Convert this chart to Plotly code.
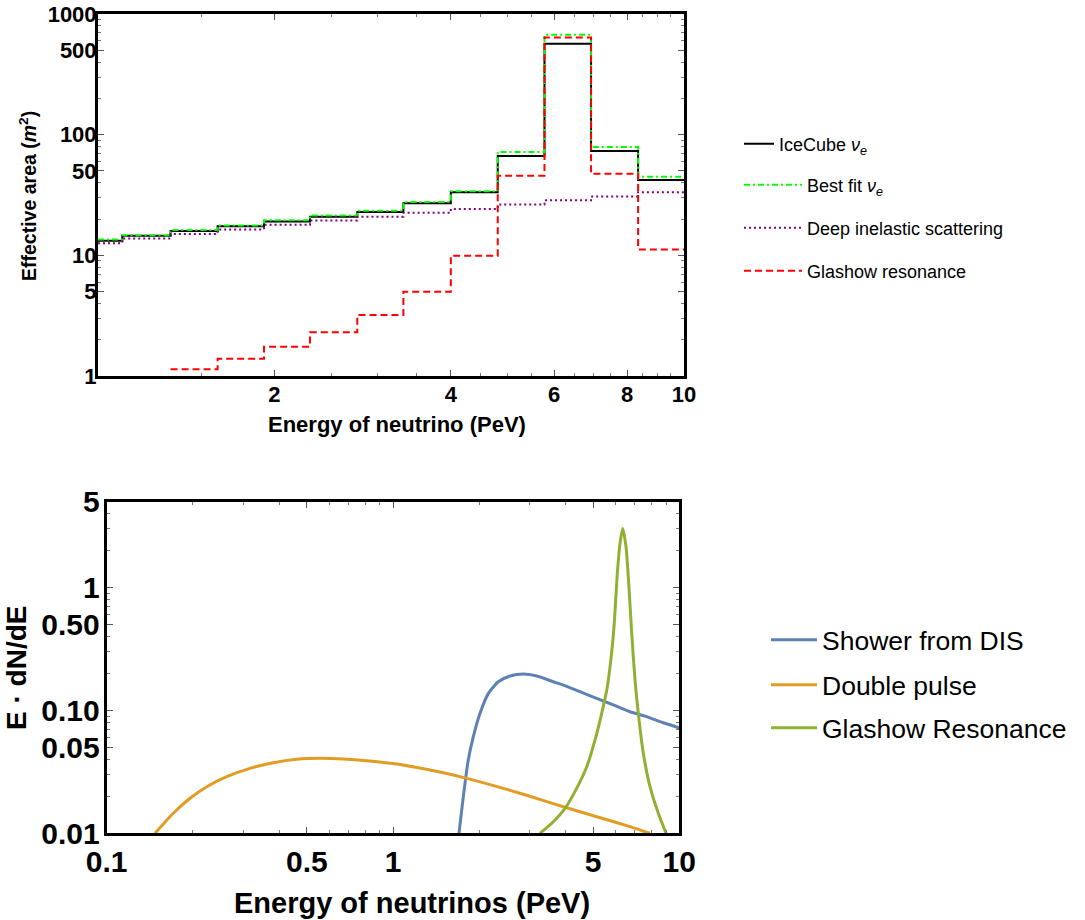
import plotly.graph_objects as go

W, H = 1085, 920
FONT = "Liberation Sans, Arial, sans-serif"

# ---------------- Top panel: effective area (m^2) vs energy (PeV) ----------------
bin_edges = [1.0, 1.10, 1.33, 1.60, 1.92, 2.30, 2.77, 3.32, 4.00, 4.81, 5.78, 6.94, 8.35, 10.0]
icecube = [13.2, 14.5, 15.9, 17.4, 19.1, 20.9, 22.9, 27.0, 33.3, 66.5, 566, 73.1, 42.1]
best_fit = [13.5, 14.7, 16.2, 17.7, 19.5, 21.4, 23.4, 27.7, 33.9, 71.7, 673, 78.9, 44.8]
dis_area = [12.6, 13.8, 15.0, 16.4, 17.9, 19.4, 20.9, 22.5, 24.2, 26.4, 28.6, 30.8, 33.4]
glashow_area = [None, None, 1.14, 1.39, 1.75, 2.30, 3.20, 4.99, 9.93, 45.7, 640, 47.4, 11.2]

top_xticks = [2, 4, 6, 8, 10]
top_xminor = [1.5, 2.5, 3, 3.5, 4.5, 5, 5.5, 6.5, 7, 7.5, 8.5, 9, 9.5]
top_yticks = [1, 5, 10, 50, 100, 500, 1000]
top_yminor = [2, 3, 4, 6, 7, 8, 9, 20, 30, 40, 60, 70, 80, 90, 200, 300, 400, 600, 700, 800, 900]

# ---------------- Bottom panel: E dN/dE vs energy (PeV) ----------------
dis_E = [1.70, 1.738, 1.784, 1.832, 1.908, 2.014, 2.153, 2.332, 2.563, 2.852, 3.177,
         3.63, 3.934, 4.50, 5.146, 5.88, 6.726, 7.69, 8.794, 10.0]
dis_val = [0.0100, 0.0155, 0.0255, 0.0395, 0.0611, 0.0947, 0.1377, 0.1712, 0.1905, 0.1977, 0.1905,
           0.1712, 0.1609, 0.142, 0.1254, 0.111, 0.0976, 0.089, 0.0794, 0.072]

pulse_E = [0.1475, 0.1708, 0.1954, 0.2236, 0.2625, 0.3166, 0.3818, 0.4609, 0.5559, 0.6706,
           0.8093, 1.030, 1.2, 1.459, 1.809, 2.495, 3.009, 3.934, 5.146, 6.726, 7.69, 7.9]
pulse_val = [0.0100, 0.01455, 0.01927, 0.02394, 0.02888, 0.03380, 0.03753, 0.04000, 0.04077, 0.04024,
             0.03897, 0.03664, 0.0345, 0.0315, 0.0280, 0.0228, 0.0200, 0.01646, 0.01365, 0.01132,
             0.0102, 0.0100]

gr_E = [3.262, 3.63, 3.99, 4.38, 4.75, 5.076, 5.358, 5.606, 5.807, 5.93, 6.074, 6.208, 6.344,
        6.514, 6.658, 6.82, 7.004, 7.192, 7.488, 7.902, 8.447, 8.987]
gr_val = [0.0100, 0.01243, 0.01597, 0.0232, 0.03483, 0.0574, 0.0947, 0.1559, 0.300, 0.52, 1.305,
          2.288, 3.031, 2.148, 1.082, 0.424, 0.1768, 0.0947, 0.04477, 0.02394, 0.01455, 0.0100]

bot_xticks = [0.1, 0.5, 1, 5, 10]
bot_xticktext = ["0.1", "0.5", "1", "5", "10"]
bot_xminor = [0.2, 0.3, 0.4, 0.6, 0.7, 0.8, 0.9, 2, 3, 4, 6, 7, 8, 9]
bot_yticks = [0.01, 0.05, 0.1, 0.5, 1, 5]
bot_yticktext = ["0.01", "0.05", "0.10", "0.50", "1", "5"]
bot_yminor = [0.02, 0.03, 0.04, 0.06, 0.07, 0.08, 0.09, 0.2, 0.3, 0.4, 0.6, 0.7, 0.8, 0.9, 2, 3, 4]


def step_xy(edges, vals):
    xs, ys = [], []
    for i, v in enumerate(vals):
        if v is None:
            continue
        xs.append(edges[i])
        ys.append(v)
    xs.append(edges[-1])
    ys.append(ys[-1])
    return xs, ys


fig = go.Figure()

top_series = [
    ("IceCube <i>ν<sub>e</sub></i>", icecube, "#000000", "solid", "legend"),
    ("Best fit <i>ν<sub>e</sub></i>", best_fit, "#00ff00", "6px,3px,2px,3px", "legend2"),
    ("Deep inelastic scattering", dis_area, "#800080", "2px,3px", "legend3"),
    ("Glashow resonance", glashow_area, "#ff0000", "7px,4px", "legend4"),
]
for name, vals, col, dash, lg in top_series:
    xs, ys = step_xy(bin_edges, vals)
    fig.add_trace(go.Scatter(x=xs, y=ys, mode="lines", name=name, line_shape="hv",
                             line=dict(color=col, width=2, dash=dash), showlegend=True,
                             xaxis="x", yaxis="y", legend=lg))

bot_series = [
    ("Shower from DIS", dis_E, dis_val, "#5e81b5", "legend5"),
    ("Double pulse", pulse_E, pulse_val, "#e19c24", "legend6"),
    ("Glashow Resonance", gr_E, gr_val, "#8fb032", "legend7"),
]
for name, xs, ys, col, lg in bot_series:
    fig.add_trace(go.Scatter(x=xs, y=ys, mode="lines", name=name, line_shape="spline",
                             line=dict(color=col, width=3, smoothing=0.6), showlegend=True,
                             xaxis="x2", yaxis="y2", legend=lg))


def px_x(p):
    return p / W


def px_y(p):
    return 1 - p / H


common = dict(type="log", showgrid=False, zeroline=False, showline=True, linecolor="black",
              linewidth=3, mirror="allticks", ticks="inside", ticklen=6, tickwidth=1,
              tickcolor="#555555", automargin=False)

tick_top = dict(family=FONT, size=22, color="black", weight="bold")
tick_bot = dict(family=FONT, size=30, color="black", weight="bold")

fig.update_layout(
    width=W, height=H, margin=dict(l=0, r=0, t=0, b=0, autoexpand=False),
    paper_bgcolor="white", plot_bgcolor="white", showlegend=True,
    xaxis=dict(common, range=[0, 1], domain=[px_x(98), px_x(684)], anchor="y",
               tickmode="array", tickvals=top_xticks, ticktext=[str(v) for v in top_xticks],
               tickfont=tick_top, ticklabelstandoff=-3,
               minor=dict(tickmode="array", tickvals=top_xminor, ticks="inside", ticklen=3,
                          tickcolor="#777777", showgrid=False)),
    yaxis=dict(common, range=[0, 3], domain=[px_y(376), px_y(14)], anchor="x",
               tickmode="array", tickvals=top_yticks, ticktext=[str(v) for v in top_yticks],
               tickfont=tick_top, ticklabelstandoff=-6,
               minor=dict(tickmode="array", tickvals=top_yminor, ticks="inside", ticklen=3,
                          tickcolor="#777777", showgrid=False)),
    xaxis2=dict(common, range=[-1, 1], domain=[px_x(106.7), px_x(679.3)], anchor="y2",
                tickmode="array", tickvals=bot_xticks, ticktext=bot_xticktext,
                tickfont=tick_bot,
                minor=dict(tickmode="array", tickvals=bot_xminor, ticks="inside", ticklen=3,
                           tickcolor="#777777", showgrid=False)),
    yaxis2=dict(common, range=[-2, 0.69897], domain=[px_y(833.3), px_y(501.7)], anchor="x2",
                tickmode="array", tickvals=bot_yticks, ticktext=bot_yticktext,
                tickfont=tick_bot, ticklabelstandoff=-2,
                minor=dict(tickmode="array", tickvals=bot_yminor, ticks="inside", ticklen=3,
                           tickcolor="#777777", showgrid=False)),
)

# legends (one per entry to mimic spacing)
top_leg_font = dict(family=FONT, size=18, color="black")
bot_leg_font = dict(family=FONT, size=26.5, color="black")
leg_specs = [
    ("legend", 739, 144, 30, top_leg_font),
    ("legend2", 739, 185, 58, top_leg_font),
    ("legend3", 739, 228, 58, top_leg_font),
    ("legend4", 739, 271, 58, top_leg_font),
    ("legend5", 766, 640, 46, bot_leg_font),
    ("legend6", 766, 685, 46, bot_leg_font),
    ("legend7", 766, 728, 46, bot_leg_font),
]
for key, lx, ly, iw, fnt in leg_specs:
    fig.update_layout({key: dict(x=px_x(lx), y=px_y(ly), xanchor="left", yanchor="middle",
                                 xref="paper", yref="paper", bgcolor="rgba(0,0,0,0)",
                                 borderwidth=0, itemwidth=iw, font=fnt, visible=True)})

fig.add_annotation(text="Effective area (<i>m</i><sup>2</sup>)", x=px_x(28), y=px_y(196),
                   xref="paper", yref="paper", textangle=-90, showarrow=False,
                   xanchor="center", yanchor="middle",
                   font=dict(family=FONT, size=19.5, color="black", weight="bold"))
fig.add_annotation(text="Energy of neutrino (PeV)", x=px_x(397), y=px_y(424),
                   xref="paper", yref="paper", showarrow=False,
                   xanchor="center", yanchor="middle",
                   font=dict(family=FONT, size=22, color="black", weight="bold"))
fig.add_annotation(text="E · dN/dE", x=px_x(16), y=px_y(668),
                   xref="paper", yref="paper", textangle=-90, showarrow=False,
                   xanchor="center", yanchor="middle",
                   font=dict(family=FONT, size=28, color="black", weight="bold"))
fig.add_annotation(text="Energy of neutrinos (PeV)", x=px_x(412), y=px_y(903),
                   xref="paper", yref="paper", showarrow=False,
                   xanchor="center", yanchor="middle",
                   font=dict(family=FONT, size=29, color="black", weight="bold"))

fig.write_html("out.html", config={"displayModeBar": False},
               post_script="document.body.style.margin='0';document.body.style.overflow='hidden';")
